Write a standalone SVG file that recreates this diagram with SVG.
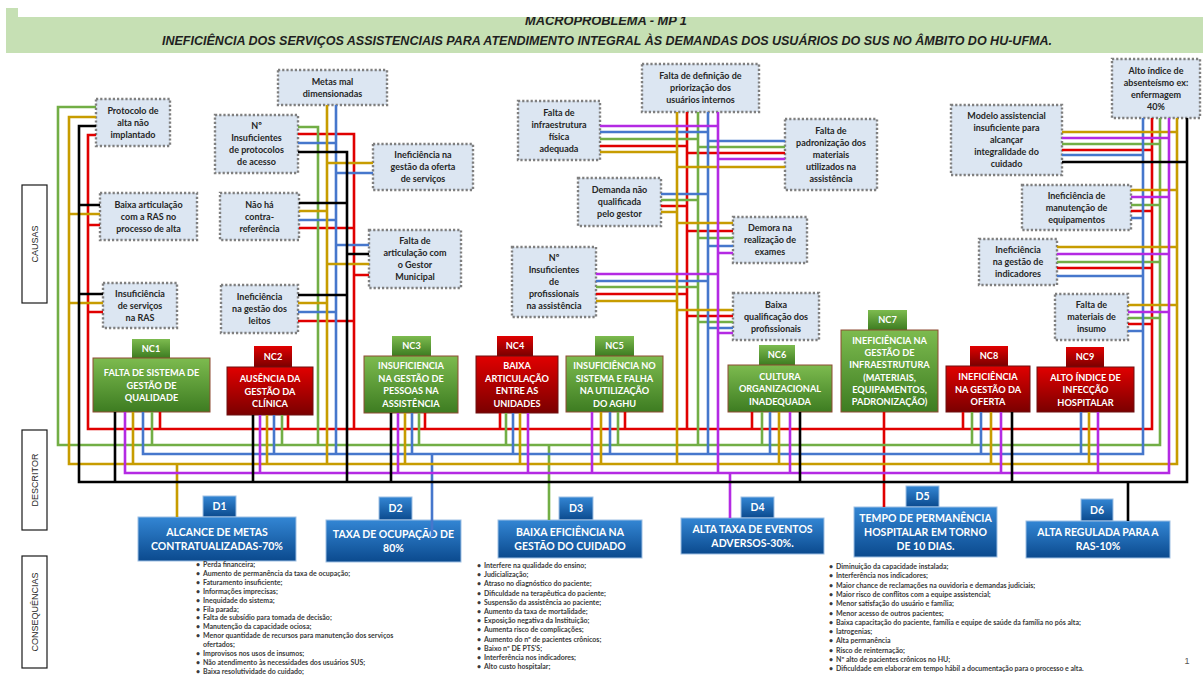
<svg xmlns="http://www.w3.org/2000/svg" width="1203" height="675" viewBox="0 0 1203 675">
  <defs>
    <linearGradient id="gGreen" x1="0" y1="0" x2="0" y2="1">
      <stop offset="0" stop-color="#7dbb4f"/>
      <stop offset="1" stop-color="#3d7c21"/>
    </linearGradient>
    <linearGradient id="gRed" x1="0" y1="0" x2="0" y2="1">
      <stop offset="0" stop-color="#e10000"/>
      <stop offset="1" stop-color="#7a0000"/>
    </linearGradient>
    <linearGradient id="gBlue" x1="0" y1="0" x2="0" y2="1">
      <stop offset="0" stop-color="#3386d4"/>
      <stop offset="1" stop-color="#0b4a8e"/>
    </linearGradient>
    <clipPath id="bandClip">
      <rect x="6" y="17" width="1197" height="36"/>
    </clipPath>
    <style>
      .cause rect { fill: #dce6f2; stroke: #7f7f7f; stroke-width: 2.4; stroke-dasharray: 2.2 2; }
      .ct { font-family: Lato, "Liberation Sans", sans-serif; font-size: 9px; font-weight: 700; fill: #262626; text-anchor: middle; }
      .nc-g { fill: url(#gGreen); stroke: #8e4b32; stroke-width: 1; }
      .nc-r { fill: url(#gRed); stroke: #6e1010; stroke-width: 1; }
      .tab-g { fill: url(#gGreen); }
      .tab-r { fill: url(#gRed); }
      .nt { font-family: Lato, "Liberation Sans", sans-serif; font-size: 9.2px; font-weight: 700; fill: #ffffff; text-anchor: middle; }
      .desc rect { fill: url(#gBlue); stroke: #9dbfe3; stroke-width: 1; }
      .dt { font-family: Lato, "Liberation Sans", sans-serif; font-size: 10.5px; font-weight: 700; fill: #ffffff; text-anchor: middle; }
      .side rect { fill: #ffffff; stroke: #1a1a1a; stroke-width: 1.2; }
      .st { font-family: "Liberation Sans", sans-serif; font-size: 9px; fill: #262626; text-anchor: middle; }
      .cq { font-family: Lato, "Liberation Sans", sans-serif; font-size: 7px; font-weight: 700; fill: #3a3a3a; }
      .w { fill: none; stroke-width: 2.6; stroke-linejoin: miter; }
      .r { stroke: #e00000; }
      .g { stroke: #72ae45; }
      .b { stroke: #4677cc; }
      .y { stroke: #c79c00; }
      .m { stroke: #b42ae3; }
      .k { stroke: #000000; }
    </style>
  </defs>

  <rect width="1203" height="675" fill="#ffffff"/>

  <!-- Title band -->
  <g id="header">
    <rect x="6" y="8" width="12" height="12" fill="#c6e0b4"/>
    <rect x="6" y="17" width="1197" height="36" fill="#c6e0b4"/>
    <g clip-path="url(#bandClip)">
      <text x="606" y="24.5" font-family="'Liberation Sans', sans-serif" font-size="12" font-style="italic" font-weight="700" fill="#1f1f1f" text-anchor="middle" textLength="162" lengthAdjust="spacingAndGlyphs">MACROPROBLEMA - MP 1</text>
    </g>
    <text x="607" y="45" font-family="'Liberation Sans', sans-serif" font-size="13" font-style="italic" font-weight="700" fill="#1f1f1f" text-anchor="middle" textLength="890" lengthAdjust="spacingAndGlyphs">INEFICIÊNCIA DOS SERVIÇOS ASSISTENCIAIS PARA ATENDIMENTO INTEGRAL ÀS DEMANDAS DOS USUÁRIOS DO SUS NO ÂMBITO DO HU-UFMA.</text>
  </g>

  <!-- Row labels -->
  <g id="label-causas" class="side">
    <rect x="22" y="185" width="25" height="118"/>
    <text class="st" transform="translate(37.5 244) rotate(-90)">CAUSAS</text>
  </g>
  <g id="label-descritor" class="side">
    <rect x="22" y="430" width="25" height="100"/>
    <text class="st" transform="translate(37.5 480) rotate(-90)">DESCRITOR</text>
  </g>
  <g id="label-consequencias" class="side">
    <rect x="22" y="556" width="25" height="112"/>
    <text class="st" transform="translate(37.5 612) rotate(-90)">CONSEQUÊNCIAS</text>
  </g>

  <!-- Cause boxes -->
  <g id="c-protocolo-alta" class="cause"><rect x="96" y="99" width="74" height="47"/>
    <text class="ct"><tspan x="133" y="114">Protocolo de</tspan><tspan x="133" y="126">alta não</tspan><tspan x="133" y="138">implantado</tspan></text></g>
  <g id="c-metas" class="cause"><rect x="278" y="70" width="109" height="35"/>
    <text class="ct"><tspan x="332.5" y="85">Metas mal</tspan><tspan x="332.5" y="97">dimensionadas</tspan></text></g>
  <g id="c-protocolos-acesso" class="cause"><rect x="215" y="115" width="83" height="58"/>
    <text class="ct"><tspan x="256.5" y="129">Nº</tspan><tspan x="256.5" y="141">Insuficientes</tspan><tspan x="256.5" y="153">de protocolos</tspan><tspan x="256.5" y="165">de acesso</tspan></text></g>
  <g id="c-articulacao-ras" class="cause"><rect x="100" y="193" width="97" height="47"/>
    <text class="ct"><tspan x="148.5" y="208">Baixa articulação</tspan><tspan x="148.5" y="220">com a RAS no</tspan><tspan x="148.5" y="232">processo de alta</tspan></text></g>
  <g id="c-contra-referencia" class="cause"><rect x="220" y="193" width="79" height="47"/>
    <text class="ct"><tspan x="259.5" y="208">Não há</tspan><tspan x="259.5" y="220">contra-</tspan><tspan x="259.5" y="232">referência</tspan></text></g>
  <g id="c-servicos-ras" class="cause"><rect x="103" y="283" width="74" height="45"/>
    <text class="ct"><tspan x="140" y="297">Insuficiência</tspan><tspan x="140" y="309">de serviços</tspan><tspan x="140" y="321">na RAS</tspan></text></g>
  <g id="c-leitos" class="cause"><rect x="221" y="285" width="77" height="48"/>
    <text class="ct"><tspan x="259.5" y="300">Ineficiência</tspan><tspan x="259.5" y="312">na gestão dos</tspan><tspan x="259.5" y="324">leitos</tspan></text></g>
  <g id="c-oferta-servicos" class="cause"><rect x="373" y="144" width="100" height="46"/>
    <text class="ct"><tspan x="423" y="158">Ineficiência na</tspan><tspan x="423" y="170">gestão da oferta</tspan><tspan x="423" y="182">de serviços</tspan></text></g>
  <g id="c-gestor-municipal" class="cause"><rect x="369" y="230" width="92" height="58"/>
    <text class="ct"><tspan x="415" y="244">Falta de</tspan><tspan x="415" y="256">articulação com</tspan><tspan x="415" y="268">o Gestor</tspan><tspan x="415" y="280">Municipal</tspan></text></g>
  <g id="c-priorizacao" class="cause"><rect x="642" y="64" width="117" height="48"/>
    <text class="ct"><tspan x="700.5" y="79">Falta de definição de</tspan><tspan x="700.5" y="91">priorização dos</tspan><tspan x="700.5" y="103">usuários internos</tspan></text></g>
  <g id="c-infraestrutura" class="cause"><rect x="518" y="101" width="82" height="59"/>
    <text class="ct"><tspan x="559" y="116">Falta de</tspan><tspan x="559" y="128">infraestrutura</tspan><tspan x="559" y="140">física</tspan><tspan x="559" y="152">adequada</tspan></text></g>
  <g id="c-padronizacao" class="cause"><rect x="785" y="119" width="92" height="71"/>
    <text class="ct"><tspan x="831" y="134">Falta de</tspan><tspan x="831" y="146">padronização dos</tspan><tspan x="831" y="158">materiais</tspan><tspan x="831" y="170">utilizados na</tspan><tspan x="831" y="182">assistência</tspan></text></g>
  <g id="c-demanda" class="cause"><rect x="578" y="178" width="83" height="48"/>
    <text class="ct"><tspan x="619.5" y="193">Demanda não</tspan><tspan x="619.5" y="205">qualificada</tspan><tspan x="619.5" y="217">pelo gestor</tspan></text></g>
  <g id="c-exames" class="cause"><rect x="733" y="217" width="74" height="46"/>
    <text class="ct"><tspan x="770" y="231">Demora na</tspan><tspan x="770" y="243">realização de</tspan><tspan x="770" y="255">exames</tspan></text></g>
  <g id="c-profissionais" class="cause"><rect x="512" y="247" width="84" height="70"/>
    <text class="ct"><tspan x="554" y="261">Nº</tspan><tspan x="554" y="273">Insuficientes</tspan><tspan x="554" y="285">de</tspan><tspan x="554" y="297">profissionais</tspan><tspan x="554" y="309">na assistência</tspan></text></g>
  <g id="c-qualificacao" class="cause"><rect x="733" y="293" width="86" height="47"/>
    <text class="ct"><tspan x="776" y="308">Baixa</tspan><tspan x="776" y="320">qualificação dos</tspan><tspan x="776" y="332">profissionais</tspan></text></g>
  <g id="c-absenteismo" class="cause"><rect x="1112" y="59" width="88" height="59"/>
    <text class="ct"><tspan x="1156" y="74">Alto índice de</tspan><tspan x="1156" y="86">absenteísmo ex:</tspan><tspan x="1156" y="98">enfermagem</tspan><tspan x="1156" y="110">40%</tspan></text></g>
  <g id="c-modelo" class="cause"><rect x="951" y="105" width="111" height="70"/>
    <text class="ct"><tspan x="1006.5" y="119">Modelo assistencial</tspan><tspan x="1006.5" y="131">insuficiente para</tspan><tspan x="1006.5" y="143">alcançar</tspan><tspan x="1006.5" y="155">integralidade do</tspan><tspan x="1006.5" y="167">cuidado</tspan></text></g>
  <g id="c-manutencao" class="cause"><rect x="1022" y="185" width="109" height="45"/>
    <text class="ct"><tspan x="1076.5" y="199">Ineficiência de</tspan><tspan x="1076.5" y="211">manutenção de</tspan><tspan x="1076.5" y="223">equipamentos</tspan></text></g>
  <g id="c-indicadores" class="cause"><rect x="979" y="239" width="78" height="46"/>
    <text class="ct"><tspan x="1018" y="253">Ineficiência</tspan><tspan x="1018" y="265">na gestão de</tspan><tspan x="1018" y="277">indicadores</tspan></text></g>
  <g id="c-insumo" class="cause"><rect x="1055" y="294" width="73" height="46"/>
    <text class="ct"><tspan x="1091.5" y="308">Falta de</tspan><tspan x="1091.5" y="320">materiais de</tspan><tspan x="1091.5" y="332">insumo</tspan></text></g>

  <!-- Critical nodes -->
  <g id="nc1">
    <rect class="tab-g" x="132" y="339" width="38" height="19"/>
    <text class="nt" x="151" y="351.7">NC1</text>
    <rect class="nc-g" x="93" y="358" width="117" height="54"/>
    <text class="nt"><tspan x="151.5" y="376">FALTA DE SISTEMA DE</tspan><tspan x="151.5" y="388.5">GESTÃO DE</tspan><tspan x="151.5" y="401">QUALIDADE</tspan></text>
  </g>
  <g id="nc2">
    <rect class="tab-r" x="254" y="346" width="38" height="21"/>
    <text class="nt" x="273" y="359.7">NC2</text>
    <rect class="nc-r" x="227" y="367" width="86" height="48"/>
    <text class="nt"><tspan x="270" y="382">AUSÊNCIA DA</tspan><tspan x="270" y="394.5">GESTÃO DA</tspan><tspan x="270" y="407">CLÍNICA</tspan></text>
  </g>
  <g id="nc3">
    <rect class="tab-g" x="392" y="336" width="39" height="20"/>
    <text class="nt" x="411.5" y="349.2">NC3</text>
    <rect class="nc-g" x="364" y="356" width="94" height="57"/>
    <text class="nt"><tspan x="411" y="369">INSUFICIENCIA</tspan><tspan x="411" y="381.5">NA GESTÃO DE</tspan><tspan x="411" y="394">PESSOAS NA</tspan><tspan x="411" y="406.5">ASSISTÊNCIA</tspan></text>
  </g>
  <g id="nc4">
    <rect class="tab-r" x="497" y="336" width="36" height="20"/>
    <text class="nt" x="515" y="349.2">NC4</text>
    <rect class="nc-r" x="476" y="356" width="82" height="57"/>
    <text class="nt"><tspan x="517" y="369">BAIXA</tspan><tspan x="517" y="381.5">ARTICULAÇÃO</tspan><tspan x="517" y="394">ENTRE AS</tspan><tspan x="517" y="406.5">UNIDADES</tspan></text>
  </g>
  <g id="nc5">
    <rect class="tab-g" x="595" y="336" width="39" height="20"/>
    <text class="nt" x="614.5" y="349.2">NC5</text>
    <rect class="nc-g" x="566" y="356" width="97" height="56"/>
    <text class="nt"><tspan x="614.5" y="369">INSUFICIÊNCIA NO</tspan><tspan x="614.5" y="381.5">SISTEMA E FALHA</tspan><tspan x="614.5" y="394">NA UTILIZAÇÃO</tspan><tspan x="614.5" y="406.5">DO AGHU</tspan></text>
  </g>
  <g id="nc6">
    <rect class="tab-g" x="759" y="345" width="36" height="20"/>
    <text class="nt" x="777" y="358.2">NC6</text>
    <rect class="nc-g" x="728" y="365" width="104" height="47"/>
    <text class="nt"><tspan x="780" y="379.5">CULTURA</tspan><tspan x="780" y="392">ORGANIZACIONAL</tspan><tspan x="780" y="404.5">INADEQUADA</tspan></text>
  </g>
  <g id="nc7">
    <rect class="tab-g" x="868" y="310" width="39" height="20"/>
    <text class="nt" x="887.5" y="323.2">NC7</text>
    <rect class="nc-g" x="841" y="330" width="97" height="82"/>
    <text class="nt"><tspan x="889.5" y="344">INEFICIÊNCIA NA</tspan><tspan x="889.5" y="356.2">GESTÃO DE</tspan><tspan x="889.5" y="368.4">INFRAESTRUTURA</tspan><tspan x="889.5" y="380.6">(MATERIAIS,</tspan><tspan x="889.5" y="392.8">EQUIPAMENTOS,</tspan><tspan x="889.5" y="405">PADRONIZAÇÃO)</tspan></text>
  </g>
  <g id="nc8">
    <rect class="tab-r" x="970" y="346" width="38" height="20"/>
    <text class="nt" x="989" y="359.2">NC8</text>
    <rect class="nc-r" x="946" y="366" width="84" height="46"/>
    <text class="nt"><tspan x="988" y="380">INEFICIÊNCIA</tspan><tspan x="988" y="392.5">NA GESTÃO DA</tspan><tspan x="988" y="405">OFERTA</tspan></text>
  </g>
  <g id="nc9">
    <rect class="tab-r" x="1066" y="347" width="38" height="20"/>
    <text class="nt" x="1085" y="360.2">NC9</text>
    <rect class="nc-r" x="1037" y="367" width="97" height="45"/>
    <text class="nt"><tspan x="1085.5" y="380.5">ALTO ÍNDICE DE</tspan><tspan x="1085.5" y="393">INFECÇÃO</tspan><tspan x="1085.5" y="405.5">HOSPITALAR</tspan></text>
  </g>

  <!-- Descriptors -->
  <g id="d1" class="desc">
    <rect x="203" y="496" width="33" height="21"/>
    <text class="dt" x="219.5" y="510">D1</text>
    <rect x="138" y="517" width="158" height="44"/>
    <text class="dt"><tspan x="217" y="535.7">ALCANCE DE METAS</tspan><tspan x="217" y="549.7">CONTRATUALIZADAS-70%</tspan></text>
  </g>
  <g id="d2" class="desc">
    <rect x="379" y="497" width="33" height="23"/>
    <text class="dt" x="395.5" y="512">D2</text>
    <rect x="326" y="520" width="135" height="42"/>
    <text class="dt"><tspan x="393.5" y="537.7">TAXA DE OCUPAÇÃO DE</tspan><tspan x="393.5" y="551.7">80%</tspan></text>
  </g>
  <g id="d3" class="desc">
    <rect x="559" y="497" width="34" height="23"/>
    <text class="dt" x="576" y="512">D3</text>
    <rect x="498" y="520" width="144" height="38"/>
    <text class="dt"><tspan x="570" y="535.7">BAIXA EFICIÊNCIA NA</tspan><tspan x="570" y="549.7">GESTÃO DO CUIDADO</tspan></text>
  </g>
  <g id="d4" class="desc">
    <rect x="741" y="497" width="33" height="21"/>
    <text class="dt" x="757.5" y="511">D4</text>
    <rect x="681" y="518" width="143" height="36"/>
    <text class="dt"><tspan x="752.5" y="532.7">ALTA TAXA DE EVENTOS</tspan><tspan x="752.5" y="546.7">ADVERSOS-30%.</tspan></text>
  </g>
  <g id="d5" class="desc">
    <rect x="906" y="486" width="33" height="21"/>
    <text class="dt" x="922.5" y="500">D5</text>
    <rect x="854" y="507" width="143" height="50"/>
    <text class="dt"><tspan x="925.5" y="521.7">TEMPO DE PERMANÊNCIA</tspan><tspan x="925.5" y="535.7">HOSPITALAR EM TORNO</tspan><tspan x="925.5" y="549.7">DE 10 DIAS.</tspan></text>
  </g>
  <g id="d6" class="desc">
    <rect x="1081" y="499" width="32" height="22"/>
    <text class="dt" x="1097" y="513.5">D6</text>
    <rect x="1026" y="521" width="144" height="37"/>
    <text class="dt"><tspan x="1098" y="536.2">ALTA REGULADA PARA A</tspan><tspan x="1098" y="550.2">RAS-10%</tspan></text>
  </g>

  <!-- Connectors: one bus per colour, with drops and stubs -->
  <g id="connectors">
    <!-- red -->
    <path class="w r" d="M96,135 H88 V429 H1152 V118"/>
    <path class="w r" d="M100,225 H88 M103,312 H88 M160,412 V429 M288,415 V429
      M298,134 H354 V429 M299,228 H354 M369,275 H354 M298,321 H354
      M425,413 V429 M500,413 V429 M625,412 V429
      M687,112 V429 M600,146 H687 M785,153 H687 M661,206 H687 M733,231 H687 M596,294 H687 M733,316 H687
      M752,412 V429 M884,412 V507 M963,412 V429
      M1062,150 H1152 M1131,211 H1152 M1057,268 H1152 M1128,324 H1152"/>
    <!-- green -->
    <path class="w g" d="M96,107 H58 V445 H1160 V118"/>
    <path class="w g" d="M152,412 V445 M282,415 V445 M298,127 H318 V445
      M419,413 V445 M506,413 V445 M549,445 V520 M618,412 V445
      M698,112 V445 M600,139 H698 M785,147 H698 M661,200 H698 M733,238 H698 M596,287 H698 M733,322 H698
      M762,412 V445 M972,412 V445
      M1062,144 H1160 M1131,205 H1160 M1057,262 H1160 M1128,318 H1160"/>
    <!-- blue -->
    <path class="w b" d="M143,412 V454 H1143 V118"/>
    <path class="w b" d="M274,415 V454 M336,105 V454 M298,143 H336 M373,173 H336 M299,220 H336 M369,245 H336 M298,312 H336
      M432,454 V537 M412,413 V454 M513,413 V454 M610,412 V454
      M708,112 V454 M600,132 H708 M785,141 H708 M661,194 H708 M733,246 H708 M596,281 H708 M733,328 H708
      M770,412 V454 M981,412 V454 M1081,412 V454
      M1062,155 H1143 M1131,218 H1143 M1057,276 H1143 M1128,331 H1143"/>
    <!-- gold -->
    <path class="w y" d="M96,117 H69 V464 H1177 V118"/>
    <path class="w y" d="M100,214 H69 M103,303 H69 M133,412 V464 M177,464 V517 M267,415 V464
      M327,105 V464 M373,163 H327 M299,211 H327 M369,264 H327 M298,303 H327
      M405,413 V464 M520,413 V464 M601,412 V464
      M677,112 V464 M600,152 H677 M785,167 H677 M661,212 H677 M733,223 H677 M596,301 H677 M733,310 H677
      M779,412 V464 M991,412 V464 M1089,412 V464
      M1062,132 H1177 M1131,190 H1177 M1057,247 H1177 M1128,305 H1177"/>
    <!-- magenta -->
    <path class="w m" d="M125,412 V473 H1169 V118"/>
    <path class="w m" d="M260,415 V473 M398,413 V473 M528,413 V473 M592,412 V473
      M718,112 V473 M600,126 H718 M785,159 H718 M733,253 H718 M596,274 H718 M733,333 H718
      M730,473 V518 M790,412 V473 M1001,412 V473 M1098,412 V473
      M1062,138 H1169 M1131,197 H1169 M1057,254 H1169 M1128,312 H1169"/>
    <!-- black -->
    <path class="w k" d="M96,126 H79 V482 H1187 V118"/>
    <path class="w k" d="M100,205 H79 M103,294 H79 M115,412 V482 M253,415 V482
      M298,152 H347 V482 M299,203 H347 M369,254 H347 M298,295 H347
      M391,413 V482 M800,412 V482 M1012,412 V482 M1128,482 V521
      M1062,162 H1187"/>
  </g>

  <!-- Consequences -->
  <g id="consequencias-d1" class="cq">
    <text x="196" y="567">•</text><text x="203" y="567">Perda financeira;</text>
    <text x="196" y="575.9">•</text><text x="203" y="575.9">Aumento de permanência da taxa de ocupação;</text>
    <text x="196" y="584.8">•</text><text x="203" y="584.8">Faturamento insuficiente;</text>
    <text x="196" y="593.7">•</text><text x="203" y="593.7">Informações imprecisas;</text>
    <text x="196" y="602.6">•</text><text x="203" y="602.6">Inequidade do sistema;</text>
    <text x="196" y="611.5">•</text><text x="203" y="611.5">Fila parada;</text>
    <text x="196" y="620.4">•</text><text x="203" y="620.4">Falta de subsídio para tomada de decisão;</text>
    <text x="196" y="629.3">•</text><text x="203" y="629.3">Manutenção da capacidade ociosa;</text>
    <text x="196" y="638.2">•</text><text x="203" y="638.2">Menor quantidade de recursos para manutenção dos serviços</text>
    <text x="203" y="647.1">ofertados;</text>
    <text x="196" y="656">•</text><text x="203" y="656">Improvisos nos usos de insumos;</text>
    <text x="196" y="664.9">•</text><text x="203" y="664.9">Não atendimento às necessidades dos usuários SUS;</text>
    <text x="196" y="673.8">•</text><text x="203" y="673.8">Baixa resolutividade do cuidado;</text>
  </g>
  <g id="consequencias-d3" class="cq">
    <text x="477" y="568">•</text><text x="484" y="568">Interfere na qualidade do ensino;</text>
    <text x="477" y="577.2">•</text><text x="484" y="577.2">Judicialização;</text>
    <text x="477" y="586.4">•</text><text x="484" y="586.4">Atraso no diagnóstico do paciente;</text>
    <text x="477" y="595.6">•</text><text x="484" y="595.6">Dificuldade na terapêutica do paciente;</text>
    <text x="477" y="604.8">•</text><text x="484" y="604.8">Suspensão da assistência ao paciente;</text>
    <text x="477" y="614">•</text><text x="484" y="614">Aumento da taxa de mortalidade;</text>
    <text x="477" y="623.2">•</text><text x="484" y="623.2">Exposição negativa da Instituição;</text>
    <text x="477" y="632.4">•</text><text x="484" y="632.4">Aumenta risco de complicações;</text>
    <text x="477" y="641.6">•</text><text x="484" y="641.6">Aumento do nº de pacientes crônicos;</text>
    <text x="477" y="650.8">•</text><text x="484" y="650.8">Baixo nº DE PTS'S;</text>
    <text x="477" y="660">•</text><text x="484" y="660">Interferência nos indicadores;</text>
    <text x="477" y="669.2">•</text><text x="484" y="669.2">Alto custo hospitalar;</text>
  </g>
  <g id="consequencias-d5" class="cq">
    <text x="829" y="569">•</text><text x="836" y="569">Diminuição da capacidade instalada;</text>
    <text x="829" y="578.3">•</text><text x="836" y="578.3">Interferência nos indicadores;</text>
    <text x="829" y="587.6">•</text><text x="836" y="587.6">Maior chance de reclamações na ouvidoria e demandas judiciais;</text>
    <text x="829" y="596.9">•</text><text x="836" y="596.9">Maior risco de conflitos com a equipe assistencial;</text>
    <text x="829" y="606.2">•</text><text x="836" y="606.2">Menor satisfação do usuário e família;</text>
    <text x="829" y="615.5">•</text><text x="836" y="615.5">Menor acesso de outros pacientes;</text>
    <text x="829" y="624.8">•</text><text x="836" y="624.8">Baixa capacitação  do paciente, família e equipe de saúde da família no pós alta;</text>
    <text x="829" y="634.1">•</text><text x="836" y="634.1">Iatrogenias;</text>
    <text x="829" y="643.4">•</text><text x="836" y="643.4">Alta permanência</text>
    <text x="829" y="652.7">•</text><text x="836" y="652.7">Risco de reinternação;</text>
    <text x="829" y="662">•</text><text x="836" y="662">Nº alto de pacientes crônicos no HU;</text>
    <text x="829" y="671.3">•</text><text x="836" y="671.3">Dificuldade em elaborar em tempo hábil a documentação para o processo e alta.</text>
  </g>

  <text x="1187" y="664" font-family="'Liberation Sans', sans-serif" font-size="9" fill="#555555" text-anchor="middle">1</text>
</svg>
